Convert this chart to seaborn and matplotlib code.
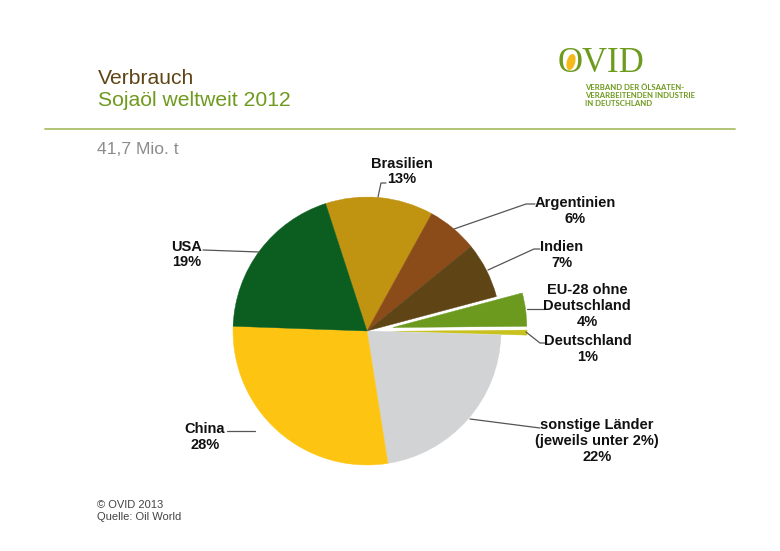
import matplotlib
matplotlib.use("Agg")
import matplotlib.pyplot as plt
from matplotlib.patches import Ellipse
import seaborn as sns

# Values
countries = ["Brasilien", "Argentinien", "Indien", "EU-28 ohne\nDeutschland", "Deutschland",
             "sonstige Länder\n(jeweils unter 2%)", "China", "USA"]
shares = [13.0, 6.1, 6.7, 4.0, 0.6, 22.0, 28.0, 19.4]
shown_pct = ["13%", "6%", "7%", "4%", "1%", "22%", "28%", "19%"]
slice_colors = ["#C09410", "#8B4C1A", "#5F4516", "#6B9A1F", "#C9C21E", "#D2D3D5", "#FDC512", "#0B5E20"]

GREEN = "#6E9A1E"
BROWN = "#5F4516"
H = 551

sns.set_style("white")
plt.rcParams["font.family"] = ["Liberation Sans", "DejaVu Sans"]

fig = plt.figure(figsize=(7.8, 5.51), dpi=100)
ax = fig.add_axes([0, 0, 1, 1])

# explode is in data units for a pie with its own center, so pixels here
pulled = ["EU-28 ohne\nDeutschland", "Deutschland"]
wedges, _ = ax.pie(shares, colors=sns.color_palette(slice_colors),
                   explode=[26 if c in pulled else 0 for c in countries],
                   startangle=108, counterclock=False, center=(367, H - 331), radius=134)
for w in wedges:
    w.set_edgecolor(w.get_facecolor())
    w.set_linewidth(0.3)
ax.set_xlim(0, 780)
ax.set_ylim(0, H)
ax.set_aspect("equal")
ax.axis("off")


def px(x, y, s, **kw):
    ax.text(x, H - y, s, **kw)


# Heading
px(98, 79, "Verbrauch", fontsize=15.2, color=BROWN, va="center")
px(98, 101, "Sojaöl weltweit 2012", fontsize=15.2, color=GREEN, va="center")
ax.plot([45, 735], [H - 129, H - 129], color="#A9C06A", lw=1.3)
px(97, 149, "41,7 Mio. t", fontsize=12.6, color="#8C8C8C", va="center")

# Logo
px(558, 63, "OVID", fontsize=25, family="Liberation Serif", color=GREEN, va="center")
ax.add_patch(Ellipse((571, H - 62), 7, 15, angle=-15, color="#F5B91A"))
for y, line in zip([87, 95, 103], ["VERBAND DER ÖLSAATEN-", "VERARBEITENDEN INDUSTRIE", "IN DEUTSCHLAND"]):
    px(585, y, line, fontsize=5.6, family="Lato", color=GREEN, weight="bold", va="center")

# Slice labels with leader lines
label_pos = [(402, 171.5), (575, 211), (562, 255), (587, 306), (588, 349), (597, 441), (205, 437), (187, 254.5)]
leaders = [
    [(378, 197), (381, 183), (386, 183)],
    [(535, 204), (526, 204), (454, 229)],
    [(540, 249), (534, 249), (488, 270)],
    [(527, 309), (544, 309)],
    [(526, 332), (540, 343), (545, 343)],
    [(470, 419), (540, 428)],
    [(255, 431), (227, 431)],
    [(259, 252), (203, 250)],
]
for name, pct, (x, y), line in zip(countries, shown_pct, label_pos, leaders):
    px(x, y, name + "\n" + pct, fontsize=10.5, weight="bold", color="#111111",
       ha="center", va="center", linespacing=1.18)
    ax.plot([p[0] for p in line], [H - p[1] for p in line], color="#555555", lw=0.9)

# Footer
px(97, 505, "© OVID 2013", fontsize=8, color="#444444", va="center")
px(97, 517, "Quelle: Oil World", fontsize=8, color="#444444", va="center")

fig.savefig("out.png", dpi=100)
